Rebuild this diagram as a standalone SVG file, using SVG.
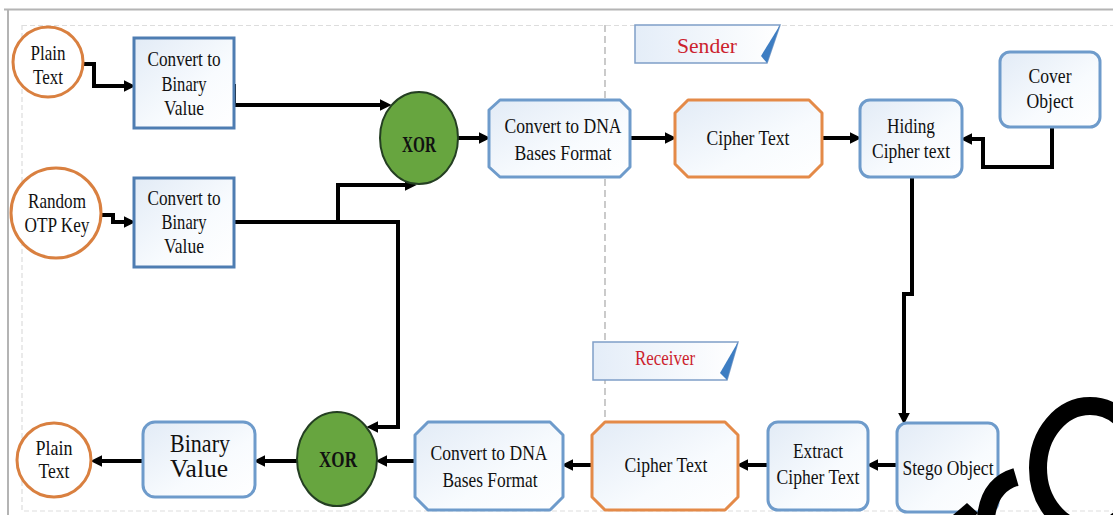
<svg xmlns="http://www.w3.org/2000/svg" width="1113" height="515" viewBox="0 0 1113 515">
<defs>
<linearGradient id="bf" x1="0" y1="0" x2="1" y2="1">
<stop offset="0" stop-color="#E2EBF6"/>
<stop offset="0.6" stop-color="#F8FBFE"/>
<stop offset="1" stop-color="#FFFFFF"/>
</linearGradient>
<linearGradient id="lf" x1="0" y1="0" x2="1" y2="0">
<stop offset="0" stop-color="#E4EDF8"/>
<stop offset="1" stop-color="#FFFFFF"/>
</linearGradient>
<marker id="ah" markerUnits="userSpaceOnUse" markerWidth="12" markerHeight="12" refX="2" refY="5" orient="auto" viewBox="0 0 10 10">
<path d="M0,0 L10,5 L0,10 z" fill="#000"/>
</marker>
<style>
text{font-family:"Liberation Serif","Times New Roman",serif;font-size:21px;fill:#111;text-anchor:middle}
.big{font-family:"Liberation Serif","Times New Roman",serif;font-size:25px}
.circ{fill:#fff;stroke:#D98040;stroke-width:3}
.sq{fill:url(#bf);stroke:#4E7DB2;stroke-width:3}
.rr{fill:url(#bf);stroke:#6E9BCB;stroke-width:3}
.oct-b{fill:url(#bf);stroke:#6E9BCB;stroke-width:3;stroke-linejoin:round}
.oct-o{fill:url(#bf);stroke:#E48A48;stroke-width:3;stroke-linejoin:round}
.xor{fill:#67A53F;stroke:#243F22;stroke-width:2}
.xt{font-weight:bold;font-size:24px}
.lbl{fill:url(#lf);stroke:#7F9FC8;stroke-width:1.5}
.fold{fill:#3D7DC2}
.red{fill:#CC1F2E;font-size:22px}
.conn path{fill:none;stroke:#000;stroke-width:4;marker-end:url(#ah)}
</style>
</defs>
<rect x="0" y="0" width="1113" height="515" fill="#fff"/>
<g id="frame" fill="none">
<path d="M4 9.5 H1113 M8 9 V515" stroke="#B4B4B4" stroke-width="2"/>
<path d="M22 25.5 H1113 M22 25 V511 H1113" stroke="#DDDDDD" stroke-width="1.2" stroke-dasharray="5 3"/>
<path d="M605 25 V510" stroke="#A8A8A8" stroke-width="1.2" stroke-dasharray="7 4"/>
</g>
<g id="sender-label">
<path class="lbl" d="M635 25 H780 L767 63 H635 Z"/>
<path class="fold" d="M780 25 L767 63 L761 56 Z"/>
<text class="red" x="707" y="53" textLength="60" lengthAdjust="spacingAndGlyphs">Sender</text>
</g>
<g id="receiver-label">
<path class="lbl" d="M593 342 H738 L727 380 H593 Z"/>
<path class="fold" d="M738 342 L727 380 L720 373 Z"/>
<text class="red" x="665" y="365" textLength="60" lengthAdjust="spacingAndGlyphs">Receiver</text>
</g>
<g class="conn" id="connectors">
<path d="M84 64 H94 V86 H126"/>
<path d="M234 84 V105 H382"/>
<path d="M102 215 H113 V222 H126"/>
<path d="M234 222 H398 V427 H376"/>
<path d="M338 222 V185 H407"/>
<path d="M458 138 H481"/>
<path d="M630 138 H667"/>
<path d="M822 138 H852"/>
<path d="M1052 127 V167 H983 V139 H970"/>
<path d="M912 177 V294 H904 V415"/>
<path d="M900 465 H876"/>
<path d="M768 465 H746"/>
<path d="M592 465 H571"/>
<path d="M415 461 H385"/>
<path d="M297 461 H263"/>
<path d="M143 461 H100"/>
<circle cx="900" cy="465" r="2.5" fill="#000"/>
</g>
<g id="plain-text-top">
<circle class="circ" cx="48" cy="62" r="35"/>
<text x="48" y="60" textLength="35" lengthAdjust="spacingAndGlyphs">Plain</text>
<text x="48" y="84" textLength="30" lengthAdjust="spacingAndGlyphs">Text</text>
</g>
<g id="binary-1">
<rect class="sq" x="134" y="38" width="100" height="90"/>
<text x="184" y="66" textLength="73" lengthAdjust="spacingAndGlyphs">Convert to</text>
<text x="184" y="91" textLength="45" lengthAdjust="spacingAndGlyphs">Binary</text>
<text x="184" y="115" textLength="40" lengthAdjust="spacingAndGlyphs">Value</text>
</g>
<g id="random-otp">
<circle class="circ" cx="56" cy="213" r="45"/>
<text x="57" y="208" textLength="58" lengthAdjust="spacingAndGlyphs">Random</text>
<text x="57" y="232" textLength="65" lengthAdjust="spacingAndGlyphs">OTP Key</text>
</g>
<g id="binary-2">
<rect class="sq" x="134" y="178" width="100" height="89"/>
<text x="184" y="205" textLength="73" lengthAdjust="spacingAndGlyphs">Convert to</text>
<text x="184" y="229" textLength="45" lengthAdjust="spacingAndGlyphs">Binary</text>
<text x="184" y="253" textLength="40" lengthAdjust="spacingAndGlyphs">Value</text>
</g>
<g id="xor-top">
<ellipse class="xor" cx="419" cy="138" rx="39" ry="46"/>
<text class="xt" x="419" y="152" textLength="34" lengthAdjust="spacingAndGlyphs">XOR</text>
</g>
<g id="dna-top">
<path class="oct-b" d="M500 100 H620 L630 110 V167 L620 177 H500 L489 167 V110 Z"/>
<text x="563" y="133" textLength="117" lengthAdjust="spacingAndGlyphs">Convert to DNA</text>
<text x="563" y="160" textLength="97" lengthAdjust="spacingAndGlyphs">Bases Format</text>
</g>
<g id="cipher-top">
<path class="oct-o" d="M688 100 H809 L822 113 V164 L809 177 H688 L675 164 V113 Z"/>
<text x="748" y="145" textLength="83" lengthAdjust="spacingAndGlyphs">Cipher Text</text>
</g>
<g id="hiding">
<rect class="rr" x="860" y="100" width="102" height="77" rx="10"/>
<text x="911" y="133" textLength="48" lengthAdjust="spacingAndGlyphs">Hiding</text>
<text x="911" y="158" textLength="78" lengthAdjust="spacingAndGlyphs">Cipher text</text>
</g>
<g id="cover">
<rect class="rr" x="1000" y="52" width="100" height="75" rx="10"/>
<text x="1050" y="83" textLength="43" lengthAdjust="spacingAndGlyphs">Cover</text>
<text x="1050" y="108" textLength="47" lengthAdjust="spacingAndGlyphs">Object</text>
</g>
<g id="stego">
<rect class="rr" x="897" y="423" width="101" height="89" rx="10"/>
<text x="948" y="475" textLength="91" lengthAdjust="spacingAndGlyphs">Stego Object</text>
</g>
<g id="extract">
<rect class="rr" x="768" y="422" width="100" height="88" rx="10"/>
<text x="818" y="458" textLength="50" lengthAdjust="spacingAndGlyphs">Extract</text>
<text x="818" y="484" textLength="83" lengthAdjust="spacingAndGlyphs">Cipher Text</text>
</g>
<g id="cipher-bottom">
<path class="oct-o" d="M605 422 H725 L738 435 V497 L725 510 H605 L592 497 V435 Z"/>
<text x="666" y="472" textLength="83" lengthAdjust="spacingAndGlyphs">Cipher Text</text>
</g>
<g id="dna-bottom">
<path class="oct-b" d="M428 422 H550 L563 435 V497 L550 510 H428 L415 497 V435 Z"/>
<text x="489" y="460" textLength="117" lengthAdjust="spacingAndGlyphs">Convert to DNA</text>
<text x="490" y="487" textLength="95" lengthAdjust="spacingAndGlyphs">Bases Format</text>
</g>
<g id="xor-bottom">
<ellipse class="xor" cx="337" cy="459" rx="40" ry="47"/>
<text class="xt" x="338" y="467" textLength="38" lengthAdjust="spacingAndGlyphs">XOR</text>
</g>
<g id="binary-bottom">
<rect class="rr" x="143" y="422" width="112" height="75" rx="12"/>
<text class="big" x="200" y="452" textLength="60" lengthAdjust="spacingAndGlyphs">Binary</text>
<text class="big" x="199" y="477" textLength="58" lengthAdjust="spacingAndGlyphs">Value</text>
</g>
<g id="plain-text-bottom">
<circle class="circ" cx="54" cy="460" r="37"/>
<text x="54" y="455" textLength="37" lengthAdjust="spacingAndGlyphs">Plain</text>
<text x="54" y="478" textLength="31" lengthAdjust="spacingAndGlyphs">Text</text>
</g>
<g id="overlay-marks">
<ellipse cx="1090" cy="468" rx="52" ry="62" fill="none" stroke="#000" stroke-width="18"/>
<path d="M986 518 Q989 485 1016 477" fill="none" stroke="#000" stroke-width="18"/>
<polygon points="953,515 967,503 978,513 976,515" fill="#000"/>
</g>
</svg>
